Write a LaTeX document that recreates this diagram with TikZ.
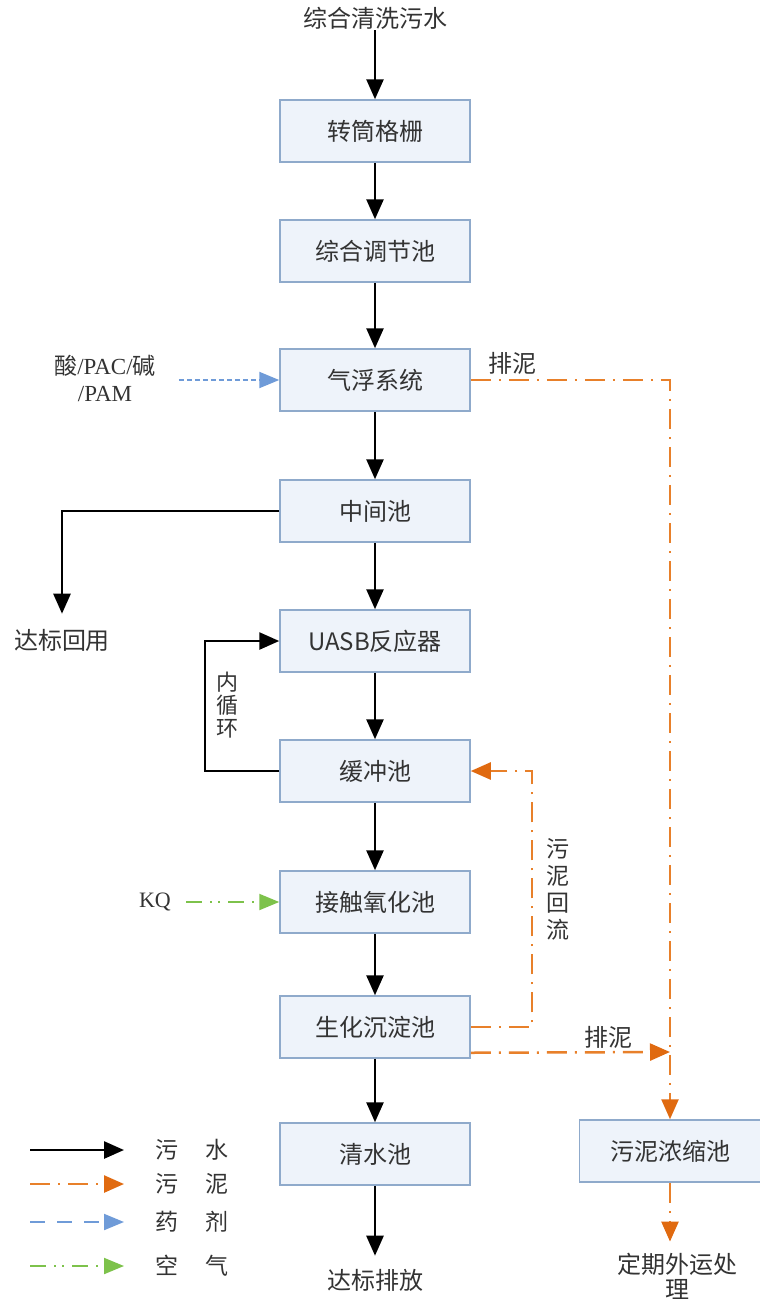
\documentclass[tikz,border=0pt]{standalone}
\usepackage{fontspec}
\setmainfont{Liberation Serif}
\newfontfamily\cjk{Noto Sans CJK SC}
\usetikzlibrary{arrows.meta}
\definecolor{boxfill}{HTML}{EEF3FA}
\definecolor{boxline}{HTML}{8FAACB}
\definecolor{sludge}{HTML}{E8802A}
\definecolor{sludgehead}{HTML}{E06A10}
\definecolor{drug}{HTML}{6F9BD8}
\definecolor{air}{HTML}{7DC24B}
\tikzset{
  procbox/.style={draw=boxline, fill=boxfill, line width=1.5pt, minimum width=190pt, minimum height=62pt, inner sep=0pt, font=\cjk\fontsize{24}{28}\selectfont, text=black!80},
  sidebox/.style={procbox, minimum width=181pt},
  lbl/.style={font=\cjk\fontsize{24}{28}\selectfont, text=black!80, align=center, inner sep=1pt},
  water/.style={line width=2.6pt, black, -{Triangle[length=20pt,width=17pt]}},
  mud/.style={line width=2.5pt, sludge, dash pattern=on 20pt off 8pt on 2pt off 8pt, -{Triangle[length=20pt,width=17pt,color=sludgehead]}},
  chem/.style={line width=2pt, drug, dash pattern=on 5pt off 3pt, -{Triangle[length=20pt,width=16pt,color=drug]}},
  chemleg/.style={line width=2pt, drug, dash pattern=on 15pt off 12pt, -{Triangle[length=20pt,width=16pt,color=drug]}},
  airflow/.style={line width=2pt, air, dash pattern=on 16pt off 8pt on 2pt off 6pt on 2pt off 8pt, -{Triangle[length=20pt,width=16pt,color=air]}},
}
\begin{document}
\begin{tikzpicture}[x=1pt,y=-1pt]
\useasboundingbox (0,0) rectangle (760,1299);
% process boxes
\node[procbox] (b1) at (375,131) {转筒格栅};
\node[procbox] (b2) at (375,251) {综合调节池};
\node[procbox] (b3) at (375,380) {气浮系统};
\node[procbox] (b4) at (375,511) {中间池};
\node[procbox] (b5) at (375,641) {UASB反应器};
\node[procbox] (b6) at (375,771) {缓冲池};
\node[procbox] (b7) at (375,902) {接触氧化池};
\node[procbox] (b8) at (375,1027) {生化沉淀池};
\node[procbox] (b9) at (375,1154) {清水池};
\node[sidebox] (sb) at (670,1151) {污泥浓缩池};
% labels
\node[lbl] (src) at (375,18) {综合清洗污水};
\node[lbl] (reuse) at (62,640) {达标回用};
\node[lbl] (out) at (375,1280) {达标排放};
\node[lbl, font=\cjk\fontsize{24}{25}\selectfont] (haul) at (677,1276) {定期外运处\\理};
\node[lbl, font=\fontsize{23}{27}\selectfont] (reag) at (105,378) {{\cjk 酸}/PAC/{\cjk 碱}\\/PAM};
\node[lbl, font=\fontsize{22}{25}\selectfont] (kq) at (155,902) {KQ};
\node[lbl] (pn1) at (512,363) {排泥};
\node[lbl] (pn2) at (608,1037) {排泥};
\node[lbl, font=\cjk\fontsize{22}{23}\selectfont] (nxh) at (227,705) {内\\循\\环};
\node[lbl, font=\cjk\fontsize{23}{27}\selectfont] (whl) at (558,889) {污\\泥\\回\\流};
% main water flow
\draw[water] (src.south) -- (b1.north);
\draw[water] (b1) -- (b2);
\draw[water] (b2) -- (b3);
\draw[water] (b3) -- (b4);
\draw[water] (b4) -- (b5);
\draw[water] (b5) -- (b6);
\draw[water] (b6) -- (b7);
\draw[water] (b7) -- (b8);
\draw[water] (b8) -- (b9);
\draw[water, shorten >=12pt] (b9) -- (out.north);
\draw[water, shorten >=14pt] (b4.west) -| (reuse.north);
\coordinate (lp) at (205,771);
\draw[water] (b6.west) -- (lp) |- (b5.west);
% reagents and air
\draw[chem, shorten <=22pt] (reag.east |- b3.west) -- (b3.west);
\draw[airflow, shorten <=14pt] (kq.east) -- (b7.west);
% sludge
\coordinate (c1) at (670,380);
\draw[mud] (b3.east) -- (c1) -- (sb.north);
\coordinate (r1) at (532,1027);
\draw[mud] (b8.east) -- (r1) |- (b6.east);
\coordinate (j2) at (670,1052);
\draw[mud] ([yshift=6pt]b8.south east) -- (j2);
\draw[mud, shorten >=10pt] (sb.south) -- (haul.north -| sb.south);
% legend
\coordinate (l1a) at (30,1150); \coordinate (l1b) at (124,1150);
\coordinate (l2a) at (30,1184); \coordinate (l2b) at (124,1184);
\coordinate (l3a) at (30,1222); \coordinate (l3b) at (124,1222);
\coordinate (l4a) at (30,1266); \coordinate (l4b) at (124,1266);
\draw[water] (l1a) -- (l1b);
\draw[mud] (l2a) -- (l2b);
\draw[chemleg] (l3a) -- (l3b);
\draw[airflow] (l4a) -- (l4b);
\node[lbl, font=\cjk\fontsize{23}{27}\selectfont] (lg1) at (192,1150) {污\hspace{27pt}水};
\node[lbl, font=\cjk\fontsize{23}{27}\selectfont] (lg2) at (192,1184) {污\hspace{27pt}泥};
\node[lbl, font=\cjk\fontsize{23}{27}\selectfont] (lg3) at (192,1222) {药\hspace{27pt}剂};
\node[lbl, font=\cjk\fontsize{23}{27}\selectfont] (lg4) at (192,1266) {空\hspace{27pt}气};
\end{tikzpicture}
\end{document}
